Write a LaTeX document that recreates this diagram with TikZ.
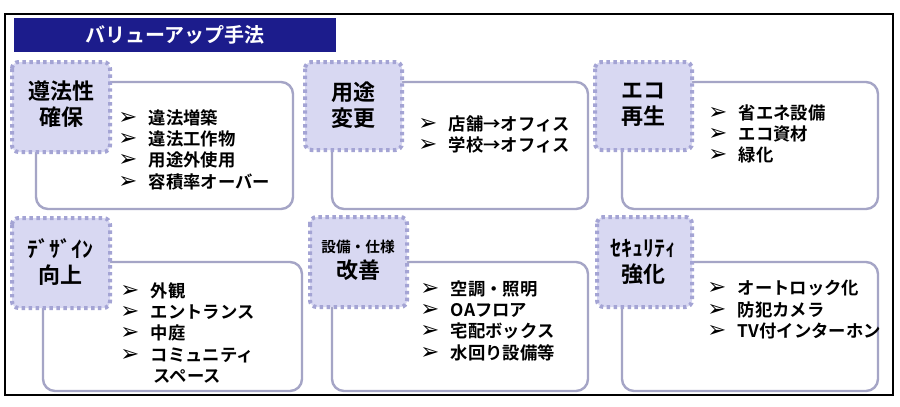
\documentclass[tikz,border=0pt]{standalone}
\usepackage{fontspec}
\setmainfont{Noto Sans CJK JP}[BoldFont={Noto Sans CJK JP Bold}]
\newfontfamily\symfont{DejaVu Sans}
\definecolor{navy}{RGB}{28,28,140}
\definecolor{lavfill}{RGB}{216,216,242}
\definecolor{lavdot}{RGB}{164,164,212}
\definecolor{panelline}{RGB}{165,165,198}
\newcommand{\itm}[1]{\makebox[23pt][l]{\symfont\fontsize{17}{17}\selectfont ➢}#1}

\begin{document}
\begin{tikzpicture}[x=0.75pt,y=0.75pt,yscale=-1,xscale=1,
  panelbox/.style={draw=panelline, line width=1.8pt, rounded corners=9pt, fill=white},
  tagbox/.style={draw=lavdot, fill=lavfill, line width=3pt, dash pattern=on 2.6pt off 2.6pt, rounded corners=5pt},
  tagtext/.style={font=\fontsize{16.5}{19.5}\selectfont\bfseries, align=center, inner sep=0pt},
  itemlist/.style={anchor=north west, font=\fontsize{13}{16}\selectfont\bfseries, align=left, inner sep=0pt}]
%set diagram size 900 x 407
\fill[white] (0,0) rectangle (900,407);
\useasboundingbox (0,0) rectangle (900,407);

%Shape: Frame
\draw[line width=1.2pt] (5,14) rectangle (893,395);
%Shape: Title bar
\fill[navy] (14,18) rectangle (336,52);
% Text Node
\node[font=\fontsize{15}{15}\selectfont\bfseries, text=white, inner sep=0pt] (title) at (175,35) {バリューアップ手法};

%Shape: Panels, upper row
\draw[panelbox] (36,82) rectangle (293,209);
\draw[panelbox] (332,82) rectangle (588,209);
\draw[panelbox] (622,82) rectangle (878,209);
%Shape: Panels, lower row
\draw[panelbox] (43,262) rectangle (302,391);
\draw[panelbox] (332,262) rectangle (588,391);
\draw[panelbox] (622,262) rectangle (878,391);

%Shape: Tags, upper row
\draw[tagbox] (12,62) rectangle (110,152);
\draw[tagbox] (305,62) rectangle (402,150);
\draw[tagbox] (595,62) rectangle (692,150);
%Shape: Tags, lower row
\draw[tagbox] (12,218) rectangle (110,308);
\draw[tagbox] (310,217) rectangle (407,307);
\draw[tagbox] (597,217) rectangle (692,307);

% Text Node
\node[tagtext] (ihou) at (61,104) {遵法性\\確保};
% Text Node
\node[tagtext] (youto) at (353,105) {用途\\変更};
% Text Node
\node[tagtext] (eco) at (643,105) {エコ\\再生};
% Text Node
\node[tagtext] (design) at (60,262) {ﾃﾞｻﾞｲﾝ\\向上};
% Text Node
\node[tagtext] (setsubi) at (358,260) {{\fontsize{11}{13}\selectfont 設備・仕様}\\改善};
% Text Node
\node[tagtext] (security) at (643,262) {ｾｷｭﾘﾃｨ\\強化};

% Text Node
\node[itemlist] (ihoulist) at (118,109) {\itm{違法増築}\\\itm{違法工作物}\\\itm{用途外使用}\\\itm{容積率オーバー}};
% Text Node
\node[itemlist] (youtolist) at (418,115) {\itm{店舗→オフィス}\\\itm{学校→オフィス}};
% Text Node
\node[itemlist] (ecolist) at (708,104) {\itm{省エネ設備}\\\itm{エコ資材}\\\itm{緑化}};
% Text Node
\node[itemlist] (designlist) at (120,282) {\itm{外観}\\\itm{エントランス}\\\itm{中庭}\\\itm{コミュニティ}\\\makebox[23pt]{}\hspace{2pt}スペース};
% Text Node
\node[itemlist] (setsubilist) at (420,280) {\itm{空調・照明}\\\itm{OAフロア}\\\itm{宅配ボックス}\\\itm{水回り設備等}};
% Text Node
\node[itemlist] (securitylist) at (707,280) {\itm{オートロック化}\\\itm{防犯カメラ}\\\itm{TV付インターホン}};

\end{tikzpicture}
\end{document}
